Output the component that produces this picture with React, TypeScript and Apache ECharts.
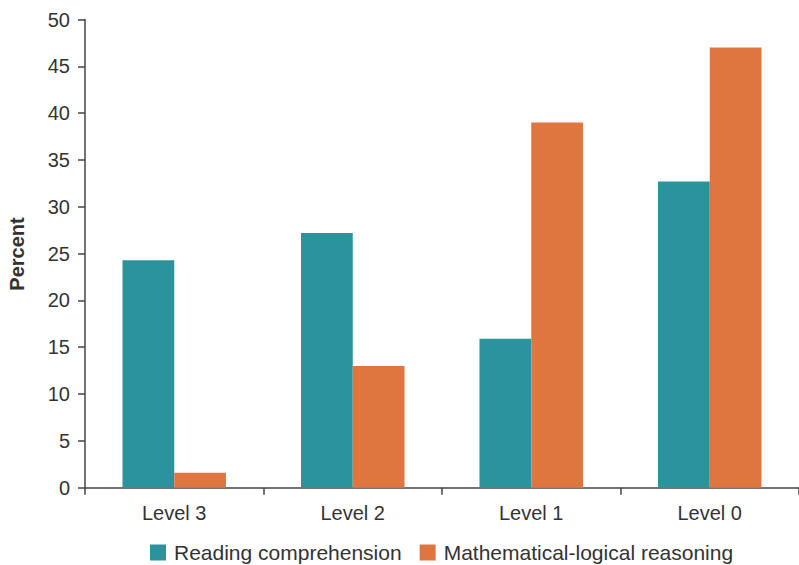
import React, { useEffect, useRef } from "react";
import * as echarts from "echarts";

const categories = ["Level 3", "Level 2", "Level 1", "Level 0"];
const reading = [24.3, 27.2, 15.9, 32.7];
const math = [1.6, 13.0, 39.0, 47.0];
const seriesNames = ["Reading comprehension", "Mathematical-logical reasoning"];
const yTicks = { min: 0, max: 50, interval: 5 };

const FONT = "Arial, 'Liberation Sans', Helvetica, sans-serif";
const TEXT = "#333333";
const AXIS = "#444444";

export default function App() {
  const ref = useRef<HTMLDivElement>(null);
  useEffect(() => {
    if (!ref.current) return;
    const chart = echarts.init(ref.current, undefined, { renderer: "svg" });
    chart.setOption({
      animation: false,
      backgroundColor: "#ffffff",
      textStyle: { fontFamily: FONT },
      grid: { left: 85, right: -8, top: 19.5, bottom: 77.3, containLabel: false },
      legend: {
        left: 150,
        top: 542,
        padding: 0,
        itemWidth: 16,
        itemHeight: 16,
        itemGap: 18,
        icon: "rect",
        textStyle: { fontSize: 21, color: TEXT, fontFamily: FONT, padding: [0, 0, 0, 3] },
        data: seriesNames,
      },
      graphic: [
        {
          type: "text",
          x: 17,
          y: 254,
          rotation: Math.PI / 2,
          style: {
            text: "Percent",
            font: `bold 20px ${FONT}`,
            fill: TEXT,
            textAlign: "center",
            textVerticalAlign: "middle",
          },
        },
      ],
      xAxis: {
        type: "category",
        data: categories,
        axisLine: { show: true, lineStyle: { color: AXIS, width: 1.5 } },
        axisTick: { show: true, length: 7, alignWithLabel: false, lineStyle: { color: AXIS, width: 1.5 } },
        axisLabel: { fontSize: 20, color: TEXT, margin: 15, fontFamily: FONT },
        splitLine: { show: false },
      },
      yAxis: {
        type: "value",
        min: yTicks.min,
        max: yTicks.max,
        interval: yTicks.interval,
        axisLine: { show: true, lineStyle: { color: AXIS, width: 1.5 } },
        axisTick: { show: true, length: 7, lineStyle: { color: AXIS, width: 1.5 } },
        axisLabel: { fontSize: 20, color: TEXT, margin: 15, fontFamily: FONT },
        splitLine: { show: false },
      },
      series: [
        {
          name: seriesNames[0],
          type: "bar",
          data: reading,
          itemStyle: { color: "#2A939B" },
          barGap: "0%",
          barCategoryGap: "42%",
        },
        {
          name: seriesNames[1],
          type: "bar",
          data: math,
          itemStyle: { color: "#DF7640" },
          barGap: "0%",
          barCategoryGap: "42%",
        },
      ],
    });
    return () => chart.dispose();
  }, []);
  return <div ref={ref} style={{ width: 799, height: 565, position: "absolute", left: 0, top: 0 }} />;
}
